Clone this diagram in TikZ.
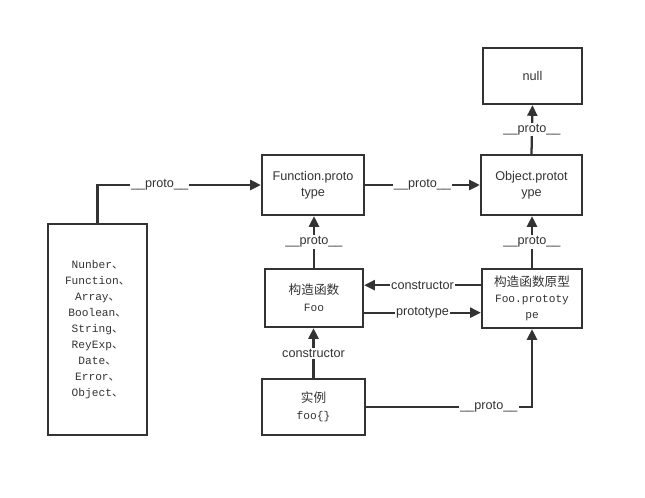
\documentclass[tikz,border=0pt]{standalone}
\usepackage{fontspec}
\setmainfont{Liberation Sans}
\setmonofont{Liberation Mono}
\newfontfamily\cjk{Noto Sans CJK SC}
\usetikzlibrary{arrows.meta}
\definecolor{ink}{HTML}{333333}
\newcommand{\dun}{{\cjk 、}}
\newcommand{\mono}{\ttfamily\fontsize{8.4}{11}\selectfont}

\begin{document}
\begin{tikzpicture}[x=0.75pt,y=-0.75pt,>={Triangle[length=8pt,width=7.5pt]},
  box/.style={draw=ink, line width=1.7pt, inner sep=0pt, align=center,
    font=\fontsize{9.5}{12}\selectfont, text=ink},
  conn/.style={->, draw=ink, line width=1.7pt},
  lbl/.style={fill=white, inner sep=1pt, font=\fontsize{9.5}{11}\selectfont, text=ink}]
\useasboundingbox (0,0) rectangle (645,497);
% boxes
\node[box, minimum width=74.25pt, minimum height=42pt] (null) at (532.5,76) {null};
\node[box, minimum width=75.75pt, minimum height=45pt] (objp) at (531.5,185) {Object.protot\\ype};
\node[box, minimum width=76.5pt, minimum height=45pt] (funp) at (313,185) {Function.proto\\type};
\node[box, minimum width=73.5pt, minimum height=43.5pt] (foo) at (314,298)
  {{\cjk 构造函数}\\[1pt]{\mono Foo}};
\node[box, minimum width=75pt, minimum height=44.25pt] (foop) at (532,298.5)
  {{\cjk 构造函数原型}\\{\mono Foo.prototy}\\{\mono pe}};
\node[box, minimum width=77.25pt, minimum height=42pt] (inst) at (313.5,407)
  {{\cjk 实例}\\[1pt]{\mono foo\{\}}};
\node[box, minimum width=74.25pt, minimum height=158.25pt,
  font=\ttfamily\fontsize{8.4}{12}\selectfont] (types) at (97.5,329.5)
  {Nunber\dun\\Function\dun\\Array\dun\\Boolean\dun\\String\dun\\ReyExp\dun\\Date\dun\\Error\dun\\Object\dun};
% links
\draw[conn] (types.north) |- node[lbl, pos=0.69] {\_\_proto\_\_} (funp.west);
\draw[conn] (funp.east) -- node[lbl] {\_\_proto\_\_} (objp.west);
\draw[conn] (objp.north) -- node[lbl] {\_\_proto\_\_} (null.south);
\draw[conn] (foo.north) -- node[lbl] {\_\_proto\_\_} (foo.north |- funp.south);
\draw[conn] (foop.north) -- node[lbl] {\_\_proto\_\_} (foop.north |- objp.south);
\draw[conn] ([yshift=10pt]foop.west) -- node[lbl] {constructor} ([yshift=10pt]foop.west -| foo.east);
\draw[conn] ([yshift=-11pt]foo.east) -- node[lbl] {prototype} ([yshift=-11pt]foo.east -| foop.west);
\draw[conn] (inst.north) -- node[lbl] {constructor} (inst.north |- foo.south);
\draw[conn] (inst.east) -| node[lbl, pos=0.37] {\_\_proto\_\_} (foop.south);
\end{tikzpicture}
\end{document}
